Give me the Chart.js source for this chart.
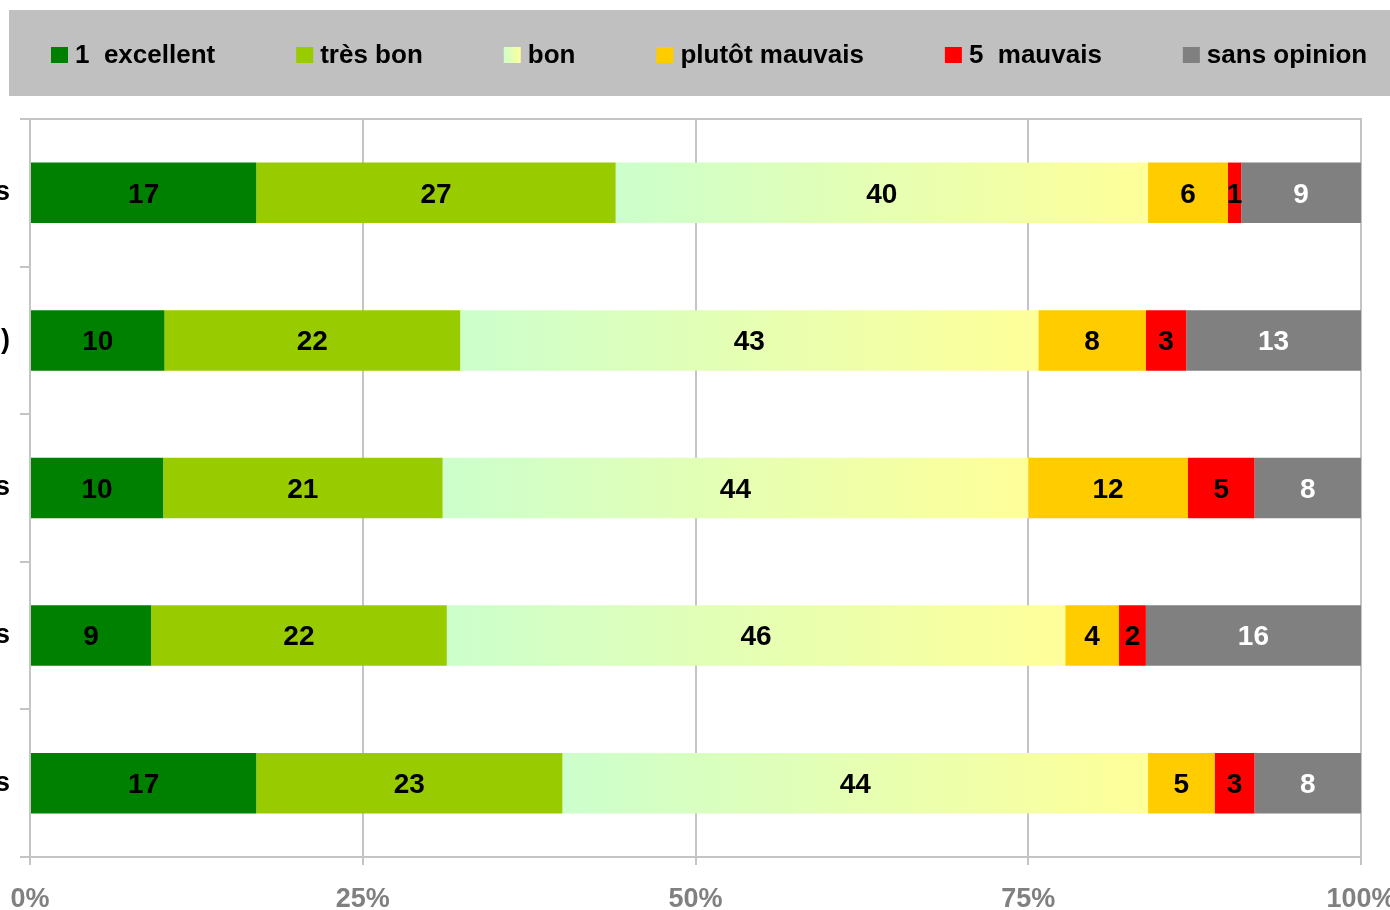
<!DOCTYPE html>
<html>
<head>
<meta charset="utf-8">
<script src="https://cdn.jsdelivr.net/npm/chart.js@4.4.1/dist/chart.umd.min.js"></script>
<style>
  html, body { margin: 0; padding: 0; background: #ffffff; }
</style>
</head>
<body>
<canvas id="surveyChart" width="1390" height="910"></canvas>
<script>
// categories (only the end of each label is visible in the picture)
const categories = ['s', ')', 's', 's', 's'];
const seriesNames = ['1  excellent', 'très bon', 'bon', 'plutôt mauvais', '5  mauvais', 'sans opinion'];
const seriesColors = ['#008000', '#99cc00', '#ccffcc', '#ffcc00', '#ff0000', '#808080'];

const excellent     = [17, 10, 10, 9, 17];
const tresBon       = [27, 22, 21, 22, 23];
const bon           = [40, 43, 44, 46, 44];
const plutotMauvais = [6, 8, 12, 4, 5];
const mauvais       = [1, 3, 5, 2, 3];
const sansOpinion   = [9, 13, 8, 16, 8];

const xTicks = [0, 25, 50, 75, 100];

const rawSeries = [excellent, tresBon, bon, plutotMauvais, mauvais, sansOpinion];
const FONT = '"Liberation Sans", Arial, sans-serif';

// 100% stacked: every row is scaled to its own total
const rowTotals = categories.map((c, i) => rawSeries.reduce((s, arr) => s + arr[i], 0));
const plotted = rawSeries.map(arr => arr.map((v, i) => v / rowTotals[i] * 100));

function bonFill(context) {
  const chart = context.chart;
  if (!chart.chartArea || context.type !== 'data') return '#e6ffb3';
  const x = chart.scales.x;
  const i = context.dataIndex;
  const start = plotted[0][i] + plotted[1][i];
  const x0 = x.getPixelForValue(start);
  const x1 = x.getPixelForValue(start + plotted[2][i]);
  const g = chart.ctx.createLinearGradient(x0, 0, x1, 0);
  g.addColorStop(0, '#ccffcc');
  g.addColorStop(1, '#ffff99');
  return g;
}

const valueLabels = {
  id: 'valueLabels',
  afterDatasetsDraw(chart) {
    const c = chart.ctx;
    c.save();
    c.font = 'bold 28px ' + FONT;
    c.textAlign = 'center';
    c.textBaseline = 'middle';
    chart.data.datasets.forEach((ds, d) => {
      chart.getDatasetMeta(d).data.forEach((bar, i) => {
        c.fillStyle = d === 5 ? '#ffffff' : '#000000';
        c.fillText(String(rawSeries[d][i]), (bar.x + bar.base) / 2, bar.y + 2);
      });
    });
    c.restore();
  }
};

const frameAndLegend = {
  id: 'frameAndLegend',
  afterDraw(chart) {
    const c = chart.ctx;
    const area = chart.chartArea;
    c.save();
    // top border of plot area
    c.strokeStyle = '#c4c4c4';
    c.lineWidth = 2;
    c.beginPath();
    c.moveTo(area.left, area.top);
    c.lineTo(area.right + 1, area.top);
    c.stroke();

    // legend band
    c.fillStyle = '#c0c0c0';
    c.fillRect(9, 10, chart.width - 9, 86);
    c.font = 'bold 26px ' + FONT;
    c.textBaseline = 'middle';
    c.textAlign = 'left';
    let x = 51;
    chart.data.datasets.forEach((ds, d) => {
      let fill = seriesColors[d];
      if (d === 2) {
        fill = c.createLinearGradient(x, 0, x + 17, 0);
        fill.addColorStop(0, '#ccffcc');
        fill.addColorStop(1, '#ffff99');
      }
      c.fillStyle = fill;
      c.fillRect(x, 47, 17, 16);
      c.fillStyle = '#000000';
      c.fillText(ds.label, x + 24, 56);
      x += 24 + c.measureText(ds.label).width + 81;
    });
    c.restore();
  }
};

new Chart(document.getElementById('surveyChart'), {
  type: 'bar',
  data: {
    labels: categories,
    datasets: seriesNames.map((name, d) => ({
      label: name,
      data: plotted[d],
      backgroundColor: d === 2 ? bonFill : seriesColors[d],
      borderWidth: 0,
      barPercentage: 0.41,
      categoryPercentage: 1
    }))
  },
  options: {
    indexAxis: 'y',
    responsive: false,
    animation: false,
    events: [],
    layout: { padding: { top: 119, right: 29, left: 0, bottom: 0 } },
    plugins: {
      legend: { display: false },
      tooltip: { enabled: false }
    },
    scales: {
      x: {
        stacked: true,
        min: 0,
        max: 100,
        afterBuildTicks: (s) => { s.ticks = xTicks.map(v => ({ value: v })); },
        ticks: {
          callback: v => v + '%',
          color: '#808080',
          font: { family: FONT, size: 27, weight: 'bold' },
          padding: 18,
          maxRotation: 0,
          autoSkip: false
        },
        grid: { color: '#c4c4c4', lineWidth: 2, tickLength: 8 },
        border: { color: '#c4c4c4', width: 2 },
        afterFit: (s) => { s.paddingLeft = 0; s.paddingRight = 0; s.height = 53; }
      },
      y: {
        stacked: true,
        ticks: {
          color: '#000000',
          font: { family: FONT, size: 27, weight: 'bold' },
          padding: 10
        },
        grid: { drawOnChartArea: false, color: '#c4c4c4', lineWidth: 2, tickLength: 10 },
        border: { color: '#c4c4c4', width: 2 },
        afterFit: (s) => { s.width = 30; s.paddingTop = 0; s.paddingBottom = 0; }
      }
    }
  },
  plugins: [valueLabels, frameAndLegend]
});
</script>
</body>
</html>
